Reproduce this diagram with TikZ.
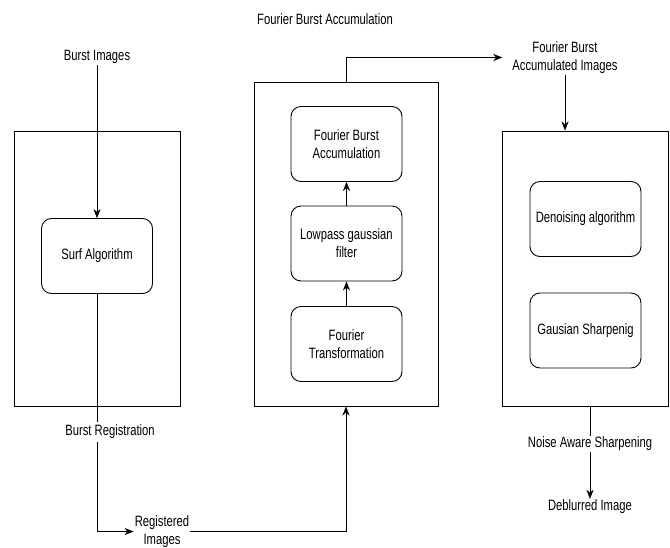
\documentclass[tikz,border=0pt]{standalone}
\usepackage{fontspec}
\setmainfont{Liberation Sans}[FakeStretch=0.75]
\usetikzlibrary{arrows.meta}

\begin{document}
\begin{tikzpicture}[x=1pt,y=-1pt,font=\fontsize{15}{18}\selectfont,
  stage/.style={draw, line width=1pt, inner sep=0pt},
  proc/.style={draw, line width=0.9pt, rounded corners=10pt, align=center,
    minimum width=111pt, minimum height=75pt, inner sep=2pt},
  lbl/.style={align=center, inner sep=1pt},
  >={Stealth[length=9pt,width=7pt]}]
\useasboundingbox (0,0) rectangle (670,547);

% outer stages
\node[stage, minimum width=166pt, minimum height=275pt] (reg) at (97.5,268.5) {};
\node[stage, minimum width=184pt, minimum height=324pt] (fba) at (346,244) {};
\node[stage, minimum width=165.5pt, minimum height=275pt] (nas) at (585.25,268.5) {};

% inner steps
\node[proc] (surf) at (97,256) {Surf Algorithm};
\node[proc] (acc) at (346.5,144) {Fourier Burst\\Accumulation};
\node[proc] (lp) at (346.5,243.5) {Lowpass gaussian\\filter};
\node[proc] (ft) at (346.5,344) {Fourier\\Transformation};
\node[proc] (den) at (585.5,219) {Denoising algorithm};
\node[proc] (gs) at (585.5,330.5) {Gausian Sharpenig};

% labels
\node[lbl] (title) at (325,19) {Fourier Burst Accumulation};
\node[lbl] (bimg) at (97,57) {Burst Images};
\node[lbl, inner xsep=10pt] (fbai) at (565,57.5) {Fourier Burst\\Accumulated Images};
\node[lbl] (regimg) at (162,531.5) {Registered\\Images};
\node[lbl] (nlab) at (590,444) {Noise Aware Sharpening};
\node[lbl] (deb) at (590,507) {Deblurred Image};

% connectors
\draw[->] (bimg.south) -- (surf.north);
\draw[->] (surf.south) |- (regimg.west);
\node[lbl, fill=white, inner sep=3pt] (blab) at (110,432) {Burst Registration};
\draw[->] (regimg.east) -| (fba.south);
\draw[->] (ft) -- (lp);
\draw[->] (lp) -- (acc);
\draw[->] (fba.north) |- (fbai.west);
\draw[->] (fbai.south) -- (fbai.south |- nas.north);
\draw (nlab |- nas.south) -- (nlab.north);
\draw[->] (nlab.south) -- (deb.north);

\end{tikzpicture}
\end{document}
